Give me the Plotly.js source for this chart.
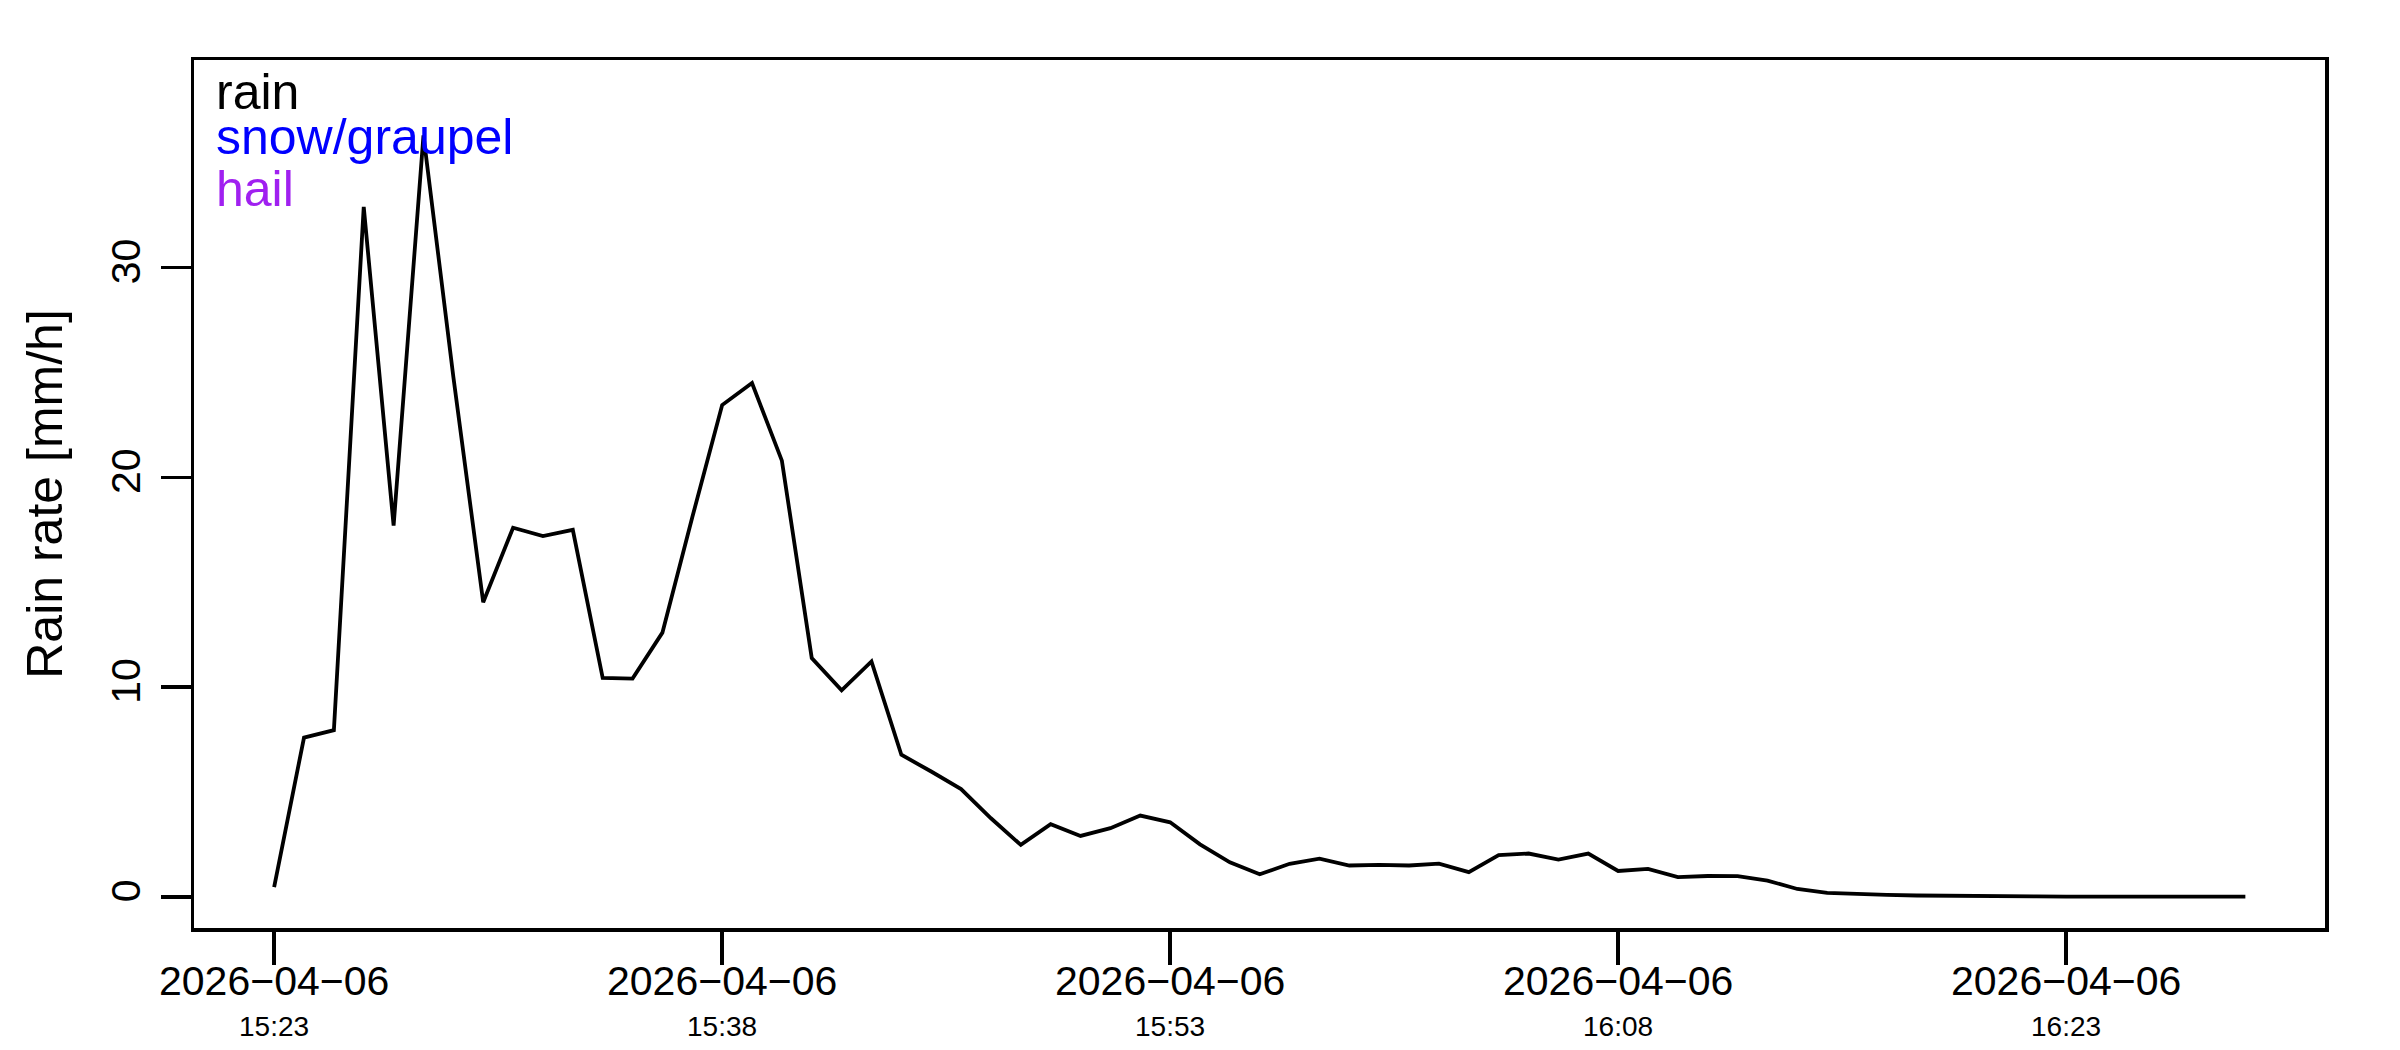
<!DOCTYPE html>
<html>
<head>
<meta charset="utf-8">
<script src="https://cdn.plot.ly/plotly-3.0.1.min.js"></script>
<style>html,body{margin:0;padding:0;background:#fff;}#chart{width:2400px;height:1050px;}</style>
</head>
<body>
<div id="chart"></div>
<script>
const dateStr = "2026-04-06";
const times = [
  "15:23","15:24","15:25","15:26","15:27","15:28","15:29","15:30","15:31","15:32",
  "15:33","15:34","15:35","15:36","15:37","15:38","15:39","15:40","15:41","15:42",
  "15:43","15:44","15:45","15:46","15:47","15:48","15:49","15:50","15:51","15:52",
  "15:53","15:54","15:55","15:56","15:57","15:58","15:59","16:00","16:01","16:02",
  "16:03","16:04","16:05","16:06","16:07","16:08","16:09","16:10","16:11","16:12",
  "16:13","16:14","16:15","16:16","16:17","16:18","16:19","16:20","16:21","16:22",
  "16:23","16:24","16:25","16:26","16:27","16:28","16:29"
];
const rainRate = [
  0.47, 7.6, 7.95, 32.9, 17.7, 36.3, 24.8, 14.05, 17.6, 17.2,
  17.5, 10.44, 10.41, 12.6, 18.1, 23.45, 24.5, 20.8, 11.39, 9.85,
  11.23, 6.78, 5.98, 5.14, 3.75, 2.48, 3.47, 2.91, 3.28, 3.88,
  3.56, 2.51, 1.65, 1.08, 1.58, 1.83, 1.50, 1.53, 1.50, 1.59,
  1.18, 1.99, 2.07, 1.78, 2.07, 1.24, 1.34, 0.95, 1.00, 0.99,
  0.78, 0.38, 0.19, 0.13, 0.10, 0.07, 0.05, 0.04, 0.03, 0.03,
  0.02, 0.03, 0.03, 0.02, 0.02, 0.02, 0.02
];
const tickTimes = ["15:23","15:38","15:53","16:08","16:23"];
const tickDateLabels = ["2026\u221204\u221206","2026\u221204\u221206","2026\u221204\u221206","2026\u221204\u221206","2026\u221204\u221206"];
const yTicks = [0, 10, 20, 30];
const legendLabels = ["rain", "snow/graupel", "hail"];
const legendColors = ["#000000", "#0000FF", "#A020F0"];

const xs = times.map(t => dateStr + " " + t + ":00");
const tickVals = tickTimes.map(t => dateStr + " " + t + ":00");

// plot box in pixels
const W = 2400, H = 1050;
const L = 194, R = 2325, T = 60, B = 928;
const font = "Liberation Sans, Arial, Helvetica, sans-serif";
const py = p => (B - p) / (B - T);

const legendCenters = [92, 137, 189];
const annotations = legendLabels.map((lab, i) => ({
  text: lab, showarrow: false, xref: "paper", yref: "paper",
  x: (214 - L) / (R - L), y: py(legendCenters[i]),
  xanchor: "left", yanchor: "middle",
  font: {family: font, size: 50, color: legendColors[i]}
}));
tickTimes.forEach((t, i) => annotations.push({
  text: t, showarrow: false, xref: "x", yref: "paper",
  x: tickVals[i], y: py(1026), xanchor: "center", yanchor: "middle",
  font: {family: font, size: 28, color: "#000"}
}));

const trace = {
  x: xs, y: rainRate, type: "scatter", mode: "lines",
  line: {color: "#000000", width: 3.8}, showlegend: false, hoverinfo: "skip"
};

const axisCommon = {
  showgrid: false, zeroline: false, showline: true, linecolor: "#000", linewidth: 3.5,
  ticks: "outside", tickcolor: "#000", tickwidth: 3.5, mirror: true
};

const layout = {
  width: W, height: H,
  margin: {l: L, r: W - R, t: T, b: H - B, pad: 0},
  paper_bgcolor: "#fff", plot_bgcolor: "#fff",
  font: {family: font, color: "#000"},
  showlegend: false,
  xaxis: Object.assign({}, axisCommon, {
    type: "date",
    range: [dateStr + " 15:20:19", dateStr + " 16:31:40"],
    tickmode: "array", tickvals: tickVals, ticktext: tickDateLabels,
    ticklen: 33, tickfont: {family: font, size: 41, color: "#000"},
    ticklabelstandoff: -19
  }),
  yaxis: Object.assign({}, axisCommon, {
    range: [-1.48, 39.9],
    tickmode: "array", tickvals: yTicks, ticktext: yTicks.map(String),
    ticklen: 30, tickangle: -90,
    tickfont: {family: font, size: 41, color: "#000"},
    ticklabelstandoff: 4,
    title: {text: "Rain rate [mm/h]", font: {family: font, size: 50, color: "#000"}, standoff: 25}
  }),
  annotations: annotations
};

Plotly.newPlot("chart", [trace], layout, {staticPlot: true, displayModeBar: false});
</script>
</body>
</html>
